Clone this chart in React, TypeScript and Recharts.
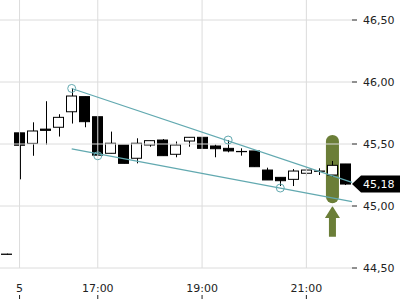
import { ComposedChart, Bar, XAxis, YAxis, ReferenceLine, ReferenceDot, ReferenceArea } from 'recharts';

// 15-minute candles, slot 0 is the last bar of the previous session
const slots = [0, 1, 2, 3, 4, 5, 6, 7, 8, 9, 10, 11, 12, 13, 14, 15, 16, 17, 18, 19, 20, 21, 22, 23, 24, 25, 26];
const opens = [44.612, 45.59, 45.505, 45.62, 45.635, 45.76, 45.882, 45.72, 45.425, 45.492, 45.385, 45.492, 45.532, 45.417, 45.524, 45.554, 45.484, 45.465, 45.44, 45.444, 45.29, 45.231, 45.215, 45.264, 45.282, 45.25, 45.339];
const highs = [44.616, 45.59, 45.675, 45.845, 45.74, 45.948, 45.882, 45.72, 45.6, 45.492, 45.546, 45.527, 45.54, 45.52, 45.554, 45.554, 45.495, 45.532, 45.465, 45.444, 45.309, 45.231, 45.298, 45.312, 45.304, 45.363, 45.339];
const lows = [44.608, 45.215, 45.405, 45.495, 45.56, 45.665, 45.635, 45.41, 45.425, 45.344, 45.344, 45.478, 45.406, 45.393, 45.478, 45.465, 45.393, 45.433, 45.406, 45.317, 45.21, 45.161, 45.161, 45.244, 45.25, 45.236, 45.169];
const closes = [44.61, 45.49, 45.605, 45.61, 45.715, 45.887, 45.68, 45.41, 45.506, 45.344, 45.506, 45.527, 45.406, 45.492, 45.554, 45.465, 45.462, 45.444, 45.438, 45.317, 45.21, 45.204, 45.282, 45.29, 45.28, 45.328, 45.177];

const xTicks = [1, 7, 15, 23];
const xLabels = ['5', '17:00', '19:00', '21:00'];
const yTicks = [44.5, 45, 45.5, 46, 46.5];

const upperTrend = [{ x: 5, y: 45.948 }, { x: 26.5, y: 45.19 }];
const lowerTrend = [{ x: 5, y: 45.46 }, { x: 26.5, y: 45.035 }];
const touches = [{ x: 5, y: 45.948 }, { x: 7, y: 45.405 }, { x: 17, y: 45.532 }, { x: 21, y: 45.145 }];
const breakout = { x1: 24.5, x2: 25.5, y1: 45.022, y2: 45.573 };
const arrow = { x1: 24.5, x2: 25.5, y1: 44.752, y2: 45.0 };

const rows = slots.map((idx, i) => ({ idx, open: opens[i], high: highs[i], low: lows[i], close: closes[i] }));
const lastClose = closes[closes.length - 1];

const TEAL = '#62a9b0';
const GREEN = '#6b7e38';
const GRID = '#dcdcdc';
const FONT = '"DejaVu Sans", sans-serif';
const fmt = (v: number) => v.toFixed(2).replace('.', ',');

function Candle(props: any) {
  const { x, y, width, height, payload } = props;
  const top = Math.min(y, y + height);
  const bot = Math.max(y, y + height);
  const { open, close, high, low } = payload;
  const k = high > low ? (bot - top) / (high - low) : 0;
  const py = (v: number) => top + (high - v) * k;
  const cx = Math.round(x + width / 2) + 0.5;
  const up = close > open;
  const bTop = py(Math.max(open, close));
  const bBot = py(Math.min(open, close));
  const left = Math.round(x) + 0.5;
  return (
    <g>
      {high > low && <line x1={cx} x2={cx} y1={top} y2={bot} stroke="#000" strokeWidth={1} />}
      <rect x={left} y={bTop} width={width - 1} height={Math.max(bBot - bTop, 0)} fill={up ? '#fff' : '#000'} stroke="#000" strokeWidth={1} />
    </g>
  );
}

function XTick(props: any) {
  const { x, y, payload } = props;
  const label = xLabels[xTicks.indexOf(payload.value)];
  return (
    <g>
      <text x={x} y={y + 23.5} textAnchor="middle" fontSize={11} fill="#222" fontFamily={FONT}>{label}</text>
      <line x1={x} x2={x} y1={y + 27} y2={y + 31} stroke="#222" />
    </g>
  );
}

function YTick(props: any) {
  const { x, y, payload } = props;
  return (
    <g>
      <line x1={x} x2={x + 5} y1={y} y2={y} stroke="#222" />
      <text x={x + 11} y={y} dy={4} textAnchor="start" fontSize={11} fill="#222" fontFamily={FONT}>{fmt(payload.value)}</text>
    </g>
  );
}

function PriceTag(props: any) {
  const { cx, cy } = props;
  const h = 8.5;
  const pts = `${cx},${cy} ${cx + 9},${cy - h} ${cx + 48},${cy - h} ${cx + 48},${cy + h} ${cx + 9},${cy + h}`;
  return (
    <g>
      <polygon points={pts} fill="#000" />
      <text x={cx + 11} y={cy} dy={4} fontSize={11} fill="#fff" fontFamily={FONT}>{fmt(lastClose)}</text>
    </g>
  );
}

function Pill(props: any) {
  const { x, y, width, height } = props;
  return <rect x={x} y={y} width={width} height={height} rx={6.5} ry={6.5} fill={GREEN} />;
}

function UpArrow(props: any) {
  const { x, y, width, height } = props;
  const cx = x + width / 2;
  const head = 12;
  const pts = [
    [cx, y], [x + width + 1, y + head], [cx + 3.5, y + head], [cx + 3.5, y + height],
    [cx - 3.5, y + height], [cx - 3.5, y + head], [x - 1, y + head],
  ].map(p => p.join(',')).join(' ');
  return <polygon points={pts} fill={GREEN} />;
}

export default function App() {
  return (
    <div style={{ position: 'absolute', left: 0, top: 0, width: 400, height: 300, background: '#fff', fontFamily: FONT }}>
      <ComposedChart width={400} height={300} data={rows} margin={{ top: 0, right: 0, left: 0, bottom: 0 }}>
        <XAxis dataKey="idx" type="number" domain={[-0.5, 26.5]} allowDataOverflow ticks={xTicks} height={32} stroke="none"
          axisLine={false} tickLine={false} tickSize={0} tickMargin={0} tick={<XTick />} interval={0} />
        <YAxis orientation="right" type="number" domain={[44.5, 46.6613]} allowDataOverflow ticks={yTicks} width={48} stroke="none"
          axisLine={false} tickLine={false} tickSize={0} tickMargin={0} tick={<YTick />} interval={0} />
        {yTicks.map(t => (
          <ReferenceLine key={'h' + t} y={t} stroke={GRID} strokeWidth={1} />
        ))}
        {xTicks.map(t => (
          <ReferenceLine key={'v' + t} x={t} stroke={GRID} strokeWidth={1} />
        ))}
        <ReferenceLine segment={upperTrend} stroke={TEAL} strokeWidth={1.2} />
        <ReferenceLine segment={lowerTrend} stroke={TEAL} strokeWidth={1.2} />
        <ReferenceArea {...breakout} shape={<Pill />} />
        <ReferenceArea {...arrow} shape={<UpArrow />} />
        <Bar dataKey={(d: any) => [d.low, d.high]} barSize={11} shape={<Candle />} isAnimationActive={false} />
        {touches.map((t, i) => (
          <ReferenceDot key={i} x={t.x} y={t.y} r={4} fill="none" stroke={TEAL} strokeWidth={1} />
        ))}
        <ReferenceDot x={26.5} y={lastClose} ifOverflow="visible" shape={<PriceTag />} />
      </ComposedChart>
    </div>
  );
}
